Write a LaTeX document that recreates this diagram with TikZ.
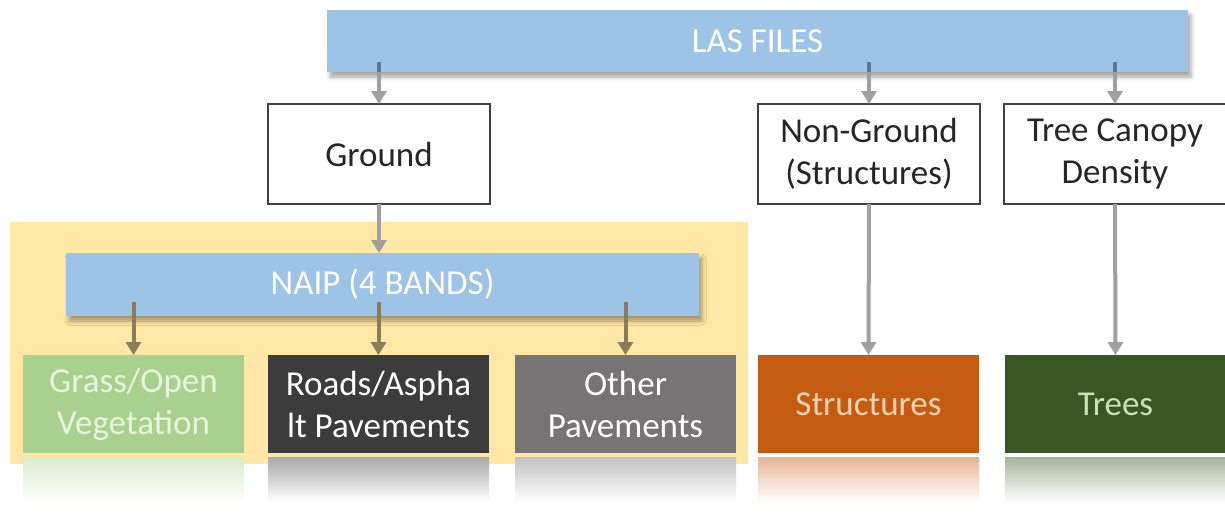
\documentclass[tikz,border=0pt]{standalone}
\usepackage{fontspec}
\setmainfont{Carlito}
\usetikzlibrary{arrows.meta,shadows.blur}
\definecolor{barblue}{HTML}{9DC3E6}
\definecolor{bgyellow}{HTML}{FFE7A6}
\definecolor{grassc}{HTML}{A9D18E}
\definecolor{grasst}{HTML}{E8F4DE}
\definecolor{roadc}{HTML}{3C3C3C}
\definecolor{otherc}{HTML}{767474}
\definecolor{structc}{HTML}{C55A11}
\definecolor{structt}{HTML}{FAD3B6}
\definecolor{treec}{HTML}{385723}
\definecolor{treet}{HTML}{C9E3B6}
\definecolor{arrgray}{HTML}{A0A0A0}
\definecolor{arrbrown}{HTML}{8C7B5B}
\definecolor{tailc}{HTML}{5E7894}
\definecolor{boxline}{HTML}{404040}
\begin{document}
\begin{tikzpicture}[x=1pt,y=-1pt,
  every node/.style={inner sep=0pt,outer sep=0pt},
  lbl/.style={font=\fontsize{35}{42}\selectfont,align=center},
  bar/.style={lbl,anchor=north west,fill=barblue,text=white,
    blur shadow={shadow xshift=3pt,shadow yshift=-5pt,shadow blur radius=4pt,shadow opacity=35}},
  wbox/.style={lbl,anchor=north west,draw=boxline,line width=1.8pt,fill=white,text=black!85,
    minimum width=222pt,minimum height=100pt},
  cbox/.style={lbl,anchor=north west,minimum width=221pt,minimum height=98pt},
  arr/.style={draw=arrgray,line width=4pt,-{Triangle[width=15pt,length=13pt]}},
  arrb/.style={draw=arrbrown,line width=4pt,-{Triangle[width=15pt,length=13pt]}},
  tail/.style={draw=tailc,line width=4pt},
]
\useasboundingbox (0,0) rectangle (1225,512);
% yellow background
\fill[bgyellow] (10,222) rectangle (748,464);
% bars
\node[bar,minimum width=861pt,minimum height=62pt] (las) at (327,10) {LAS FILES};
\node[bar,minimum width=633pt,minimum height=63pt] (naip) at (66,253) {NAIP (4 BANDS)};
% white boxes
\node[wbox] (ground) at (268,104) {Ground};
\node[wbox] (nong) at (758,104) {Non-Ground\\(Structures)};
\node[wbox] (canopy) at (1004,104) {Tree Canopy\\Density};
% reflections
\foreach \x/\c in {23/grassc,268/roadc,515/otherc,758/structc,1005/treec}{
  \shade[top color=\c!45!white,bottom color=white] (\x,457) rectangle ++(221,45);
}
% coloured boxes
\node[cbox,fill=grassc,text=grasst] (grass) at (23,355) {Grass/Open\\Vegetation};
\node[cbox,fill=roadc,text=white] (roads) at (268,355) {Roads/Aspha\\lt Pavements};
\node[cbox,fill=otherc,text=white] (other) at (515,355) {Other\\Pavements};
\node[cbox,fill=structc,text=structt] (struct) at (758,355) {Structures};
\node[cbox,fill=treec,text=treet] (trees) at (1005,355) {Trees};
% connectors
\foreach \t in {ground,nong,canopy}{
  \draw[tail] ([yshift=10pt]las.south -| \t.north) -- (las.south -| \t.north);
  \draw[arr] (las.south -| \t.north) -- (\t.north);
}
\draw[arr] (ground.south) -- (naip.north -| ground.south);
\foreach \t in {grass,roads,other}{
  \draw[arrb] ([yshift=14pt]naip.south -| \t.north) -- (\t.north);
}
\draw[arr] (nong.south) -- (struct.north);
\draw[arr] (canopy.south) -- (trees.north);
\end{tikzpicture}
\end{document}
